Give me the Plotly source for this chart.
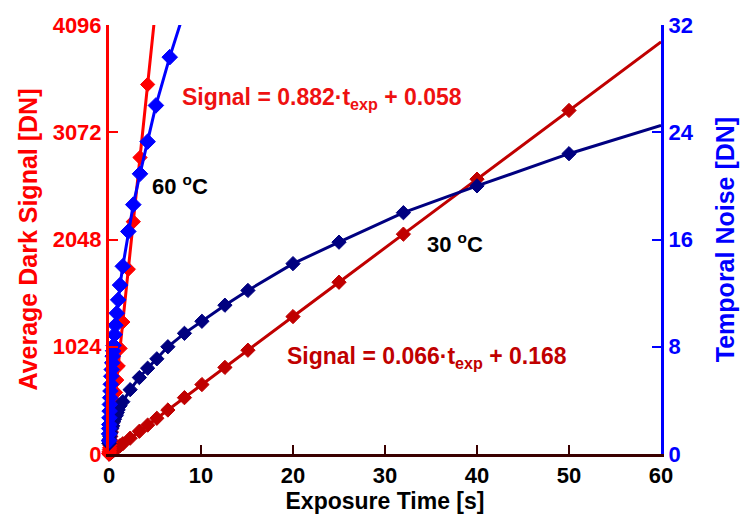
import plotly.graph_objects as go

# ---- data ----
t30 = [0, 0.01, 0.02, 0.05, 0.1, 0.15, 0.2, 0.3, 0.4, 0.5, 0.6, 0.7, 0.8, 0.9, 1.0, 1.2,
       1.5, 2.3, 3.3, 4.2, 5.2, 6.4, 8.2, 10.1, 12.6, 15.1, 20, 25, 32, 40, 50, 60]
signal30 = [0, 1, 1, 3, 7, 10, 13, 20, 26, 33, 39, 46, 52, 59, 66, 79,
            98, 151, 217, 276, 341, 420, 538, 663, 827, 991, 1312, 1640, 2099, 2624, 3280, 3935]
noise30 = [0.8, 0.8, 0.9, 1.1, 1.3, 1.5, 1.6, 1.9, 2.1, 2.4, 2.6, 2.8, 2.9, 3.1, 3.3, 3.6,
           3.9, 4.8, 5.7, 6.4, 7.1, 8.0, 9.0, 9.9, 11.1, 12.2, 14.2, 15.8, 18.0, 20.0, 22.4, 24.5]

t60 = [0, 0.01, 0.02, 0.03, 0.05, 0.07, 0.1, 0.13, 0.16, 0.2, 0.25, 0.3, 0.35, 0.4, 0.45,
       0.5, 0.6, 0.7, 0.84, 1.0, 1.2, 1.5, 2.1, 2.64, 3.37, 4.2, 5.1, 6.6, 8.4]
signal60 = [0, 8, 17, 25, 42, 59, 84, 109, 134, 168, 210, 252, 294, 336, 378,
            420, 504, 588, 706, 840, 1008, 1260, 1764, 2218, 2831, 3528, 4284, 5544, 7056]
noise60 = [1.0, 1.5, 1.9, 2.2, 2.7, 3.2, 3.7, 4.2, 4.7, 5.2, 5.8, 6.3, 6.8, 7.3, 7.7,
           8.1, 8.9, 9.6, 10.5, 11.5, 12.6, 14.0, 16.6, 18.6, 20.9, 23.3, 26.0, 29.6, 33.5]

x_ticks = [0, 10, 20, 30, 40, 50, 60]
signal_ticks = [0, 1024, 2048, 3072, 4096]
noise_ticks = [0, 8, 16, 24, 32]

X_MAX, SIG_MAX, NOISE_MAX = 60, 4096, 32

C_RED30 = "#c00000"
C_NAVY30 = "#000080"
C_RED60 = "#ff0000"
C_BLUE60 = "#0000ff"
C_XAXIS = "#3a0000"
FONT = "Liberation Sans, Arial, sans-serif"


def sizes(xs, ys, ymax, s):
    return [0 if (x >= X_MAX or y > ymax) else s for x, y in zip(xs, ys)]


def add_series(fig, xs, ys, axis, ymax, color, size):
    fig.add_trace(go.Scatter(
        x=xs, y=ys, mode="lines+markers", yaxis=axis,
        line=dict(color=color, width=3),
        marker=dict(symbol="diamond", size=sizes(xs, ys, ymax, size), color=color,
                    opacity=1, line=dict(color=color, width=1)),
        opacity=1, cliponaxis=False, showlegend=False))


fig = go.Figure()
add_series(fig, t30, signal30, "y", SIG_MAX, C_RED30, 11)
add_series(fig, t30, noise30, "y2", NOISE_MAX, C_NAVY30, 11)
add_series(fig, t60, signal60, "y", SIG_MAX, C_RED60, 11)
add_series(fig, t60, noise60, "y2", NOISE_MAX, C_BLUE60, 12)

fig.update_layout(
    width=750, height=520,
    margin=dict(l=109, r=89, t=25, b=66),
    paper_bgcolor="white", plot_bgcolor="white",
    font=dict(family=FONT, size=22, color="black"),
    xaxis=dict(
        range=[0, X_MAX], tickvals=x_ticks, ticktext=[f"<b>{v}</b>" for v in x_ticks],
        showgrid=False, zeroline=False, showline=True, linecolor=C_XAXIS, linewidth=3,
        ticks="inside", ticklen=9, tickwidth=2, tickcolor=C_XAXIS,
        tickfont=dict(size=22, color="black"),
        title=dict(text="<b>Exposure Time [s]</b>", font=dict(size=23, color="black"), standoff=2),
    ),
    yaxis=dict(
        range=[0, SIG_MAX], tickvals=signal_ticks, ticktext=[f"<b>{v}</b>" for v in signal_ticks],
        showgrid=False, zeroline=False, showline=True, linecolor=C_RED60, linewidth=3,
        ticks="inside", ticklen=9, tickwidth=2, tickcolor=C_RED60,
        tickfont=dict(size=22, color=C_RED60),
        title=dict(text="<b>Average Dark Signal [DN]</b>", font=dict(size=25, color=C_RED60), standoff=8),
    ),
    yaxis2=dict(
        range=[0, NOISE_MAX], tickvals=noise_ticks, ticktext=[f"<b>{v}</b>" for v in noise_ticks],
        overlaying="y", side="right", anchor="x",
        showgrid=False, zeroline=False, showline=True, linecolor=C_BLUE60, linewidth=3,
        ticks="inside", ticklen=9, tickwidth=2, tickcolor=C_BLUE60,
        tickfont=dict(size=22, color=C_BLUE60),
        title=dict(text="<b>Temporal Noise [DN]</b>", font=dict(size=25, color=C_BLUE60), standoff=24),
    ),
    annotations=[
        dict(text="<b>Signal = 0.882·t<sub>exp</sub> + 0.058</b>", x=180, y=98,
             xref="paper", yref="paper", showarrow=False, xanchor="left", yanchor="middle",
             font=dict(size=23, color="#ee1111")),
        dict(text="<b>60 <sup>o</sup>C</b>", x=150, y=185,
             xref="paper", yref="paper", showarrow=False, xanchor="left", yanchor="middle",
             font=dict(size=22, color="black")),
        dict(text="<b>30 <sup>o</sup>C</b>", x=425, y=243,
             xref="paper", yref="paper", showarrow=False, xanchor="left", yanchor="middle",
             font=dict(size=22, color="black")),
        dict(text="<b>Signal = 0.066·t<sub>exp</sub> + 0.168</b>", x=285, y=357,
             xref="paper", yref="paper", showarrow=False, xanchor="left", yanchor="middle",
             font=dict(size=23, color=C_RED30)),
    ],
)

# convert pixel positions of annotations into paper coordinates
pw, ph = 750 - 109 - 89, 520 - 25 - 66
for a in fig.layout.annotations:
    a.x = (a.x - 109) / pw
    a.y = 1 - (a.y - 25) / ph

fig.write_html("out.html")
